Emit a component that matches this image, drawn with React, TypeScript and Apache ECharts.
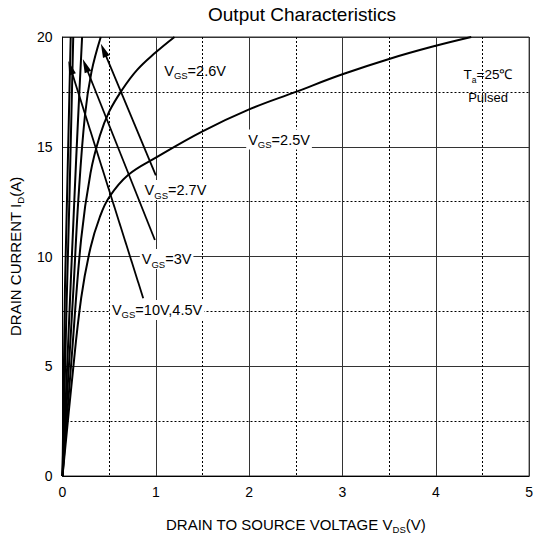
import React, { useEffect, useRef } from "react";
import * as echarts from "echarts";

const FONT = '"Liberation Sans", Arial, Helvetica, sans-serif';

// Axis ranges / ticks
const xMin = 0, xMax = 5, xStep = 1;
const yMin = 0, yMax = 20, yStep = 5;

// Curves: [VDS (V), ID (A)]
const vgs10: number[][] = [[0, 0], [0.026, 8.5], [0.048, 12.6], [0.088, 20]];
const vgs45: number[][] = [[0, 0], [0.045, 8.0], [0.074, 12.6], [0.115, 20]];
const vgs3: number[][] = [[0, 0], [0.06, 6], [0.127, 12.6], [0.166, 16.2], [0.21, 20]];
const vgs27: number[][] = [[0, 0], [0.06, 4.4], [0.117, 8.5], [0.17, 12.6], [0.24, 16.4], [0.31, 18.4], [0.41, 20]];
const vgs26: number[][] = [[0, 0], [0.1, 5.5], [0.2, 10.8], [0.3, 13.8], [0.4, 15.5], [0.5, 16.6], [0.64, 17.6], [0.8, 18.5], [1.0, 19.3], [1.2, 20]];
const vgs25: number[][] = [[0, 0], [0.1, 4.3], [0.2, 8.1], [0.3, 10.4], [0.4, 11.8], [0.5, 12.7], [0.7, 13.7], [1.0, 14.5], [1.5, 15.7], [2.0, 16.7], [2.5, 17.5], [3.0, 18.3], [3.5, 19.0], [4.0, 19.6], [4.38, 20]];

const curves = [
  { name: "VGS=10V", data: vgs10, smooth: 0 },
  { name: "VGS=4.5V", data: vgs45, smooth: 0 },
  { name: "VGS=3V", data: vgs3, smooth: 0.4 },
  { name: "VGS=2.7V", data: vgs27, smooth: 0.4 },
  { name: "VGS=2.6V", data: vgs26, smooth: 0.4 },
  { name: "VGS=2.5V", data: vgs25, smooth: 0.4 },
];

// Annotation arrows: from label end to tip, in data units
const arrowFrom: number[][] = [[1.0, 13.7], [0.99, 10.75], [0.865, 8.1]];
const arrowTo: number[][] = [[0.44, 19.4], [0.245, 18.7], [0.085, 18.6]];

// Curve labels: subscript text, main text, anchor (left, middle) in data units, white background
const labelSub = ["GS", "GS", "GS", "GS", "GS"];
const labelMain = ["=2.6V", "=2.5V", "=2.7V", "=3V", "=10V,4.5V"];
const labelAt: number[][] = [[1.09, 18.57], [1.99, 15.44], [0.88, 13.14], [0.85, 10.0], [0.53, 7.68]];
const labelBg = [false, true, true, true, true];

const condAt: number[][] = [[4.56, 18.39], [4.56, 17.24]];

const title = "Output Characteristics";

export default function App() {
  const ref = useRef<HTMLDivElement>(null);

  useEffect(() => {
    if (!ref.current) return;
    const chart = echarts.init(ref.current, undefined, { renderer: "svg" });

    const axisLabelStyle = { fontSize: 14, fontFamily: FONT, color: "#000" };
    const splitStyle = { color: "#333", width: 1, type: "solid" as const };
    const minorStyle = { color: "#000", width: 1, type: [2, 2] as any };

    chart.setOption({
      animation: false,
      backgroundColor: "#fff",
      title: {
        text: title,
        left: 302,
        top: 5,
        textAlign: "center",
        padding: 0,
        textStyle: { fontSize: 19, fontWeight: "normal", fontFamily: FONT, color: "#000" },
      },
      grid: { left: 60, right: 4, top: 37, bottom: 65, show: true, borderColor: "#333", borderWidth: 1 },
      xAxis: {
        type: "value",
        min: xMin,
        max: xMax,
        interval: xStep,
        name: "{a|DRAIN TO SOURCE VOLTAGE V}{b|DS}{a|(V)}",
        nameLocation: "middle",
        nameGap: 38,
        nameTextStyle: {
          rich: {
            a: { fontSize: 15, fontFamily: FONT, color: "#000" },
            b: { fontSize: 9.5, fontFamily: FONT, color: "#000", padding: [10, 0, 0, 0] },
          },
        },
        axisLine: { lineStyle: { color: "#000", width: 1 } },
        axisTick: { show: false },
        axisLabel: { ...axisLabelStyle, margin: 9 },
        splitLine: { show: true, lineStyle: splitStyle },
        minorTick: { show: false, splitNumber: 2 },
        minorSplitLine: { show: true, lineStyle: minorStyle },
      },
      yAxis: {
        type: "value",
        min: yMin,
        max: yMax,
        interval: yStep,
        name: "{a|DRAIN CURRENT I}{b|D}{a|(A)}",
        nameLocation: "middle",
        nameGap: 37,
        nameTextStyle: {
          rich: {
            a: { fontSize: 15, fontFamily: FONT, color: "#000" },
            b: { fontSize: 9.5, fontFamily: FONT, color: "#000", padding: [10, 0, 0, 0] },
          },
        },
        axisLine: { show: true, lineStyle: { color: "#000", width: 1 } },
        axisTick: { show: false },
        axisLabel: { ...axisLabelStyle, margin: 10 },
        splitLine: { show: true, lineStyle: splitStyle },
        minorTick: { show: false, splitNumber: 2 },
        minorSplitLine: { show: true, lineStyle: minorStyle },
      },
      series: curves.map((c, i) => ({
        name: c.name,
        type: "line",
        data: c.data,
        smooth: c.smooth,
        showSymbol: false,
        symbol: "none",
        silent: true,
        clip: true,
        lineStyle: { color: "#000", width: 2 },
        emphasis: { disabled: true },
        markLine:
          i === curves.length - 1
            ? {
                silent: true,
                symbol: ["none", "triangle"],
                symbolSize: [7, 14],
                label: { show: false },
                emphasis: { disabled: true },
                lineStyle: { color: "#000", width: 1.8, type: "solid" },
                itemStyle: { color: "#000" },
                data: arrowFrom.map((f, k) => [{ coord: f }, { coord: arrowTo[k] }]),
              }
            : undefined,
      })),
    });

    const toPx = (p: number[]) => chart.convertToPixel({ gridIndex: 0 }, p) as number[];

    const graphics: any[] = labelMain.map((m, i) => {
      const [px, py] = toPx(labelAt[i]);
      return {
        type: "text",
        x: px - 2,
        y: py + 2.5,
        silent: true,
        z: 100,
        style: {
          text: `{v|V}{s|${labelSub[i]}}{v|${m}}`,
          align: "left",
          verticalAlign: "middle",
          backgroundColor: labelBg[i] ? "#fff" : undefined,
          padding: [0, 2, 0, 2],
          rich: {
            v: { fontSize: 14.5, fontFamily: FONT, fill: "#000" },
            s: { fontSize: 9.5, fontFamily: FONT, fill: "#000", padding: [10, 0, 0, 0] },
          },
        },
      };
    });

    const [tx, ty] = toPx(condAt[0]);
    graphics.push({
      type: "text",
      x: tx,
      y: ty + 2.5,
      silent: true,
      z: 100,
      style: {
        text: "{v|T}{s|a}{v|=25℃}",
        align: "center",
        verticalAlign: "middle",
        rich: {
          v: { fontSize: 13.5, fontFamily: FONT, fill: "#000" },
          s: { fontSize: 8.5, fontFamily: FONT, fill: "#000", padding: [10, 0, 0, 0] },
        },
      },
    });
    const [qx, qy] = toPx(condAt[1]);
    graphics.push({
      type: "text",
      x: qx,
      y: qy,
      silent: true,
      z: 100,
      style: {
        text: "Pulsed",
        align: "center",
        verticalAlign: "middle",
        fontSize: 13,
        fontFamily: FONT,
        fill: "#000",
      },
    });

    chart.setOption({ graphic: graphics });

    return () => chart.dispose();
  }, []);

  return (
    <div
      ref={ref}
      style={{ position: "absolute", left: 0, top: 0, width: 536, height: 541 }}
    />
  );
}
